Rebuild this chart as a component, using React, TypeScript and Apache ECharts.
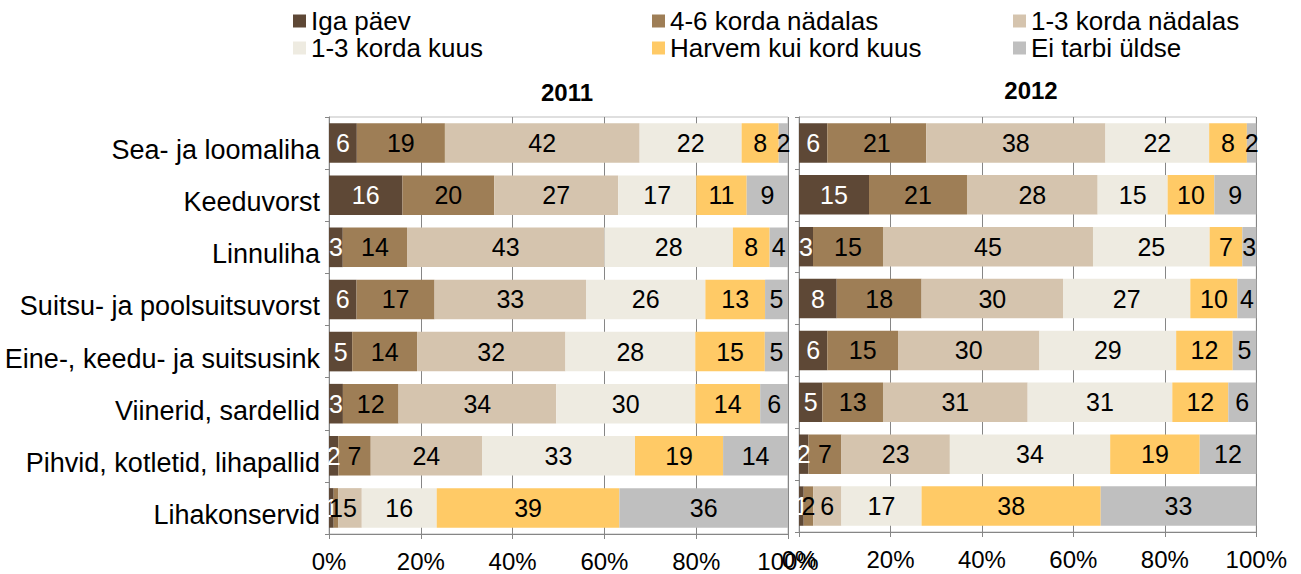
import React, { useEffect, useRef } from "react";
import * as echarts from "echarts";

const categories = [
  "Sea- ja loomaliha",
  "Keeduvorst",
  "Linnuliha",
  "Suitsu- ja poolsuitsuvorst",
  "Eine-, keedu- ja suitsusink",
  "Viinerid, sardellid",
  "Pihvid, kotletid, lihapallid",
  "Lihakonservid",
];

const seriesNames = [
  "Iga päev",
  "4-6 korda nädalas",
  "1-3 korda nädalas",
  "1-3 korda kuus",
  "Harvem kui kord kuus",
  "Ei tarbi üldse",
];

const years = ["2011", "2012"];

// 2011
const igaPaev2011 = [6, 16, 3, 6, 5, 3, 2, 1];
const korda46Nad2011 = [19, 20, 14, 17, 14, 12, 7, 1];
const korda13Nad2011 = [42, 27, 43, 33, 32, 34, 24, 5];
const korda13Kuus2011 = [22, 17, 28, 26, 28, 30, 33, 16];
const harvem2011 = [8, 11, 8, 13, 15, 14, 19, 39];
const eiTarbi2011 = [2, 9, 4, 5, 5, 6, 14, 36];

// 2012
const igaPaev2012 = [6, 15, 3, 8, 6, 5, 2, 1];
const korda46Nad2012 = [21, 21, 15, 18, 15, 13, 7, 2];
const korda13Nad2012 = [38, 28, 45, 30, 30, 31, 23, 6];
const korda13Kuus2012 = [22, 15, 25, 27, 29, 31, 34, 17];
const harvem2012 = [8, 10, 7, 10, 12, 12, 19, 38];
const eiTarbi2012 = [2, 9, 3, 4, 5, 6, 12, 33];

const xTicks = [0, 20, 40, 60, 80, 100];

const raw = [
  [igaPaev2011, korda46Nad2011, korda13Nad2011, korda13Kuus2011, harvem2011, eiTarbi2011],
  [igaPaev2012, korda46Nad2012, korda13Nad2012, korda13Kuus2012, harvem2012, eiTarbi2012],
];

const colors = ["#5E4836", "#9E7E56", "#D5C4AE", "#EEEBE1", "#FFCA66", "#BFBFBF"];
const FONT = "Liberation Sans";

export default function App() {
  const ref = useRef<HTMLDivElement>(null);

  useEffect(() => {
    if (!ref.current) return;
    const chart = echarts.init(ref.current, null, { renderer: "svg" });

    const grids = [
      { left: 329, top: 117, width: 459, height: 417 },
      { left: 799, top: 117, width: 475, height: 415 },
    ];

    const series: any[] = [];
    raw.forEach((yearData, p) => {
      const sums = categories.map((_, i) =>
        yearData.reduce((acc, arr) => acc + arr[i], 0)
      );
      yearData.forEach((arr, s) => {
        series.push({
          type: "bar",
          name: seriesNames[s],
          stack: "y" + p,
          xAxisIndex: p,
          yAxisIndex: p,
          barWidth: "76%",
          data: arr.map((v, i) => (v / sums[i]) * 100),
          itemStyle: { color: colors[s] },
          label: {
            show: true,
            position: "inside",
            color: s === 0 ? "#ffffff" : "#000000",
            fontSize: 25,
            fontFamily: FONT,
            formatter: (prm: any) => String(arr[prm.dataIndex]),
          },
        });
      });
    });

    const legendPos = [
      { left: 293, top: 8 },
      { left: 652, top: 8 },
      { left: 1013, top: 8 },
      { left: 293, top: 35 },
      { left: 652, top: 35 },
      { left: 1013, top: 35 },
    ];

    chart.setOption({
      animation: false,
      grid: grids.map((g) => ({
        ...g,
        show: true,
        borderColor: "#bfbfbf",
        borderWidth: 1,
        containLabel: false,
      })),
      legend: seriesNames.map((n, i) => ({
        data: [n],
        left: legendPos[i].left,
        top: legendPos[i].top,
        padding: 0,
        itemGap: 0,
        itemWidth: 13,
        itemHeight: 13,
        icon: "rect",
        selectedMode: false,
        textStyle: { fontSize: 26, fontFamily: FONT, color: "#000" },
      })),
      xAxis: years.map((_, p) => ({
        type: "value",
        gridIndex: p,
        min: xTicks[0],
        max: xTicks[xTicks.length - 1],
        interval: 20,
        axisLine: { show: true, lineStyle: { color: "#868686" } },
        axisTick: { show: true, length: 5, lineStyle: { color: "#868686" } },
        splitLine: { show: true, lineStyle: { color: "#868686" } },
        axisLabel: {
          formatter: "{value}%",
          fontSize: 24,
          fontFamily: FONT,
          color: "#000",
          margin: 15,
        },
      })),
      yAxis: years.map((_, p) => ({
        type: "category",
        gridIndex: p,
        inverse: true,
        data: categories,
        axisLine: { show: true, lineStyle: { color: "#868686" } },
        axisTick: { show: true, length: 4, lineStyle: { color: "#868686" } },
        axisLabel: {
          show: p === 0,
          fontSize: 27,
          fontFamily: FONT,
          color: "#000",
          margin: 9,
          verticalAlign: "top",
          lineHeight: 14,
        },
      })),
      graphic: [
        {
          type: "text",
          x: 567,
          y: 92,
          style: {
            text: years[0],
            textAlign: "center",
            textVerticalAlign: "middle",
            font: `bold 24px "${FONT}"`,
            fill: "#000",
          },
        },
        {
          type: "text",
          x: 1031,
          y: 90,
          style: {
            text: years[1],
            textAlign: "center",
            textVerticalAlign: "middle",
            font: `bold 24px "${FONT}"`,
            fill: "#000",
          },
        },
      ],
      series,
    });

    return () => chart.dispose();
  }, []);

  return (
    <div
      ref={ref}
      style={{ position: "fixed", left: 0, top: 0, width: 1290, height: 574, background: "#fff" }}
    />
  );
}
